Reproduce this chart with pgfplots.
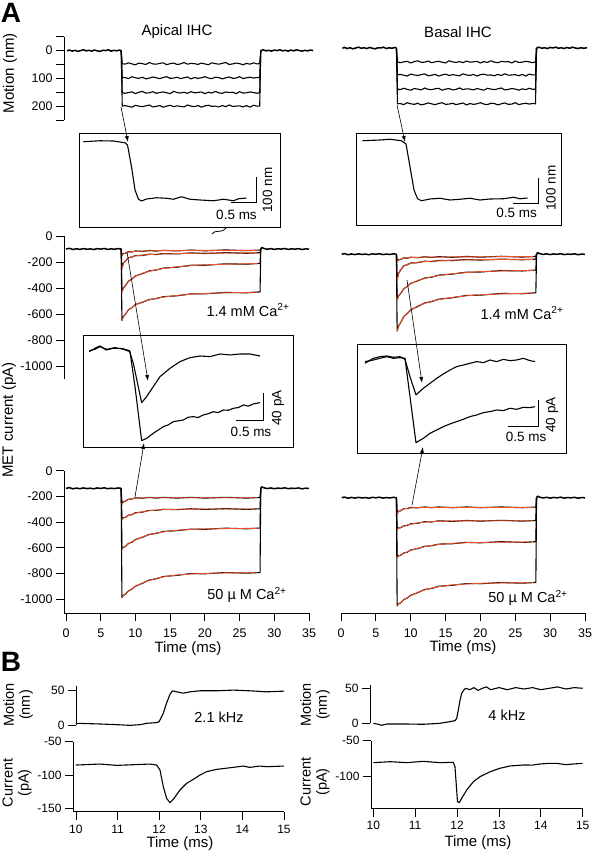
\documentclass[border=0pt]{standalone}
\usepackage{fontspec}
\setmainfont{Liberation Sans}
\usepackage{pgfplots}
\pgfplotsset{compat=1.18}
\usetikzlibrary{arrows.meta}
\definecolor{fitred}{RGB}{240,80,40}
\pgfplotsset{
  base/.style={scale only axis, clip=false, anchor=north west,
    axis line style={line width=0.8pt},
    tick style={black, line width=0.8pt},
    major tick length=8pt, minor tick length=8pt,
    ticklabel style={font=\fontsize{12.5}{14}\selectfont},
    /pgf/number format/assume math mode=true,
    /pgf/number format/1000 sep={}},
  fin/.style={tick align=outside, axis line style={-},
    every outer x axis line/.append style={-},
    every outer y axis line/.append style={-},
    every inner x axis line/.append style={-},
    every inner y axis line/.append style={-}},
  inset/.style={base, xtick=\empty, ytick=\empty},
  dat/.style={black, line width=1.1pt, line join=round, mark=none},
  bas/.style={black, line width=1.5pt, line join=round, mark=none},
  fit/.style={fitred, line width=0.9pt, line join=round, mark=none},
}
\begin{document}
\begin{tikzpicture}
\useasboundingbox (0pt,0pt) rectangle (592pt,-853pt);
%================ A: motion left
\begin{axis}[base, at={(64pt,-36.7pt)}, width=245pt, height=83.3pt,
  xmin=-0.29, xmax=35, ymin=-50, ymax=250, y dir=reverse,
  axis x line=none, axis y line=left, fin,
  ytick={0,100,200}, minor ytick={-50,50,150,250}]
\addplot[bas] coordinates {(0.15,1)(0.5,-2)(0.9,2)(1.3,-1)(1.7,3)(2.1,0)(2.5,-3)(2.9,1)(3.3,-1)(3.7,2)(4.1,-2)(4.5,1)(4.9,3)(5.3,-1)(5.7,0)(6.1,-3)(6.5,2)(6.9,-1)(7.3,1)(7.7,-2)(7.95,0)};
\addplot[bas] coordinates {(28.05,0)(28.4,-3)(28.8,1)(29.2,-1)(29.6,2)(30,-2)(30.4,0)(30.8,-3)(31.2,1)(31.6,-1)(32,2)(32.4,-2)(32.8,1)(33.2,-3)(33.6,0)(34,2)(34.4,-1)(34.8,1)(35.2,-2)(35.6,0)};
\addplot[dat] coordinates {(7.95,0)(8.1,47)(8.5,49)(9,44)(9.5,48)(10,51)(10.5,45)(11,47)(11.5,50)(12,43)(12.5,48)(13,49)(13.5,46)(14,44)(14.5,51)(15,47)(15.5,45)(16,50)(16.5,48)(17,43)(17.5,49)(18,46)(18.5,47)(19,50)(19.5,45)(20,48)(20.5,51)(21,44)(21.5,47)(22,49)(22.5,46)(23,43)(23.5,50)(24,48)(24.5,45)(25,47)(25.5,51)(26,46)(26.5,49)(27,44)(27.5,48)(27.9,47)(28.05,0)};
\addplot[dat] coordinates {(7.95,0)(8.1,98)(8.5,97)(9,101)(9.5,94)(10,98)(10.5,100)(11,96)(11.5,102)(12,99)(12.5,95)(13,98)(13.5,101)(14,97)(14.5,94)(15,100)(15.5,99)(16,96)(16.5,101)(17,98)(17.5,95)(18,102)(18.5,97)(19,100)(19.5,98)(20,94)(20.5,99)(21,101)(21.5,96)(22,97)(22.5,102)(23,98)(23.5,95)(24,100)(24.5,99)(25,94)(25.5,101)(26,98)(26.5,96)(27,99)(27.5,97)(27.9,98)(28.05,0)};
\addplot[dat] coordinates {(7.95,0)(8.1,151)(8.5,154)(9,151)(9.5,149)(10,155)(10.5,150)(11,147)(11.5,153)(12,152)(12.5,148)(13,154)(13.5,151)(14,149)(14.5,152)(15,155)(15.5,147)(16,151)(16.5,153)(17,150)(17.5,154)(18,148)(18.5,152)(19,151)(19.5,149)(20,155)(20.5,150)(21,153)(21.5,147)(22,152)(22.5,154)(23,149)(23.5,151)(24,150)(24.5,155)(25,148)(25.5,153)(26,152)(26.5,149)(27,151)(27.5,154)(27.9,151)(28.05,0)};
\addplot[dat] coordinates {(7.95,0)(8.1,200)(8.5,198)(9,201)(9.5,204)(10,197)(10.5,200)(11,202)(11.5,199)(12,196)(12.5,203)(13,201)(13.5,198)(14,204)(14.5,200)(15,197)(15.5,202)(16,199)(16.5,201)(17,203)(17.5,196)(18,200)(18.5,202)(19,198)(19.5,204)(20,199)(20.5,197)(21,201)(21.5,200)(22,203)(22.5,198)(23,202)(23.5,196)(24,201)(24.5,200)(25,199)(25.5,203)(26,198)(26.5,204)(27,197)(27.5,200)(27.9,200)(28.05,0)};
\end{axis}
%================ A: motion right
\begin{axis}[base, at={(341pt,-36.7pt)}, width=244pt, height=83.3pt,
  xmin=0, xmax=35, ymin=-40.7, ymax=259.3, y dir=reverse, hide axis]
\addplot[bas] coordinates {(0.2,1)(0.5,-2)(0.9,2)(1.3,-1)(1.7,3)(2.1,0)(2.5,-3)(2.9,1)(3.3,-1)(3.7,2)(4.1,-2)(4.5,1)(4.9,3)(5.3,-1)(5.7,0)(6.1,-3)(6.5,2)(6.9,-1)(7.3,1)(7.7,-2)(7.95,0)};
\addplot[bas] coordinates {(28.05,0)(28.4,-3)(28.8,1)(29.2,-1)(29.6,2)(30,-2)(30.4,0)(30.8,-3)(31.2,1)(31.6,-1)(32,2)(32.4,-2)(32.8,1)(33.2,-3)(33.6,0)(34,2)(34.4,-1)(34.8,1)(35.3,-1)};
\addplot[dat] coordinates {(7.95,0)(8.1,50)(8.5,53)(9,50)(9.5,48)(10,54)(10.5,49)(11,46)(11.5,52)(12,51)(12.5,47)(13,53)(13.5,50)(14,48)(14.5,51)(15,54)(15.5,46)(16,50)(16.5,52)(17,49)(17.5,53)(18,47)(18.5,51)(19,50)(19.5,48)(20,54)(20.5,49)(21,52)(21.5,46)(22,51)(22.5,53)(23,48)(23.5,50)(24,49)(24.5,54)(25,47)(25.5,52)(26,51)(26.5,48)(27,50)(27.5,53)(27.9,50)(28.05,0)};
\addplot[dat] coordinates {(7.95,0)(8.1,97)(8.5,95)(9,98)(9.5,101)(10,94)(10.5,97)(11,99)(11.5,96)(12,93)(12.5,100)(13,98)(13.5,95)(14,101)(14.5,97)(15,94)(15.5,99)(16,96)(16.5,98)(17,100)(17.5,93)(18,97)(18.5,99)(19,95)(19.5,101)(20,96)(20.5,94)(21,98)(21.5,97)(22,100)(22.5,95)(23,99)(23.5,93)(24,98)(24.5,97)(25,96)(25.5,100)(26,95)(26.5,101)(27,94)(27.5,97)(27.9,97)(28.05,0)};
\addplot[dat] coordinates {(7.95,0)(8.1,148)(8.5,150)(9,145)(9.5,149)(10,152)(10.5,146)(11,148)(11.5,151)(12,144)(12.5,149)(13,150)(13.5,147)(14,145)(14.5,152)(15,148)(15.5,146)(16,151)(16.5,149)(17,144)(17.5,150)(18,147)(18.5,148)(19,151)(19.5,146)(20,149)(20.5,152)(21,145)(21.5,148)(22,150)(22.5,147)(23,144)(23.5,151)(24,149)(24.5,146)(25,148)(25.5,152)(26,147)(26.5,150)(27,145)(27.5,149)(27.9,148)(28.05,0)};
\addplot[dat] coordinates {(7.95,0)(8.1,201)(8.5,200)(9,204)(9.5,197)(10,201)(10.5,203)(11,199)(11.5,205)(12,202)(12.5,198)(13,201)(13.5,204)(14,200)(14.5,197)(15,203)(15.5,202)(16,199)(16.5,204)(17,201)(17.5,198)(18,205)(18.5,200)(19,203)(19.5,201)(20,197)(20.5,202)(21,204)(21.5,199)(22,200)(22.5,205)(23,201)(23.5,198)(24,203)(24.5,202)(25,197)(25.5,204)(26,201)(26.5,199)(27,202)(27.5,200)(27.9,201)(28.05,0)};
\end{axis}
%================ motion insets
\begin{axis}[inset, at={(79pt,-133pt)}, width=201pt, height=94pt,
  xmin=0, xmax=4.02, ymin=-36, ymax=340, y dir=reverse]
\addplot[dat] coordinates {(0.087,-1)(0.42,-5)(0.69,-4)(0.92,3)(0.97,12)(1.05,99)(1.12,192)(1.19,229)(1.25,236)(1.35,228)(1.55,223)(1.75,225)(1.89,229)(2.05,219)(2.22,229)(2.42,232)(2.69,235)(2.89,229)(3.09,235)(3.19,227)(3.35,224)};
\end{axis}
\begin{axis}[inset, at={(356pt,-133pt)}, width=205pt, height=92pt,
  xmin=0, xmax=4.1, ymin=-32, ymax=336, y dir=reverse]
\addplot[dat] coordinates {(0.13,-1)(0.48,-4)(0.68,-7)(0.91,-1)(1.0,12)(1.08,103)(1.16,196)(1.23,231)(1.31,239)(1.48,232)(1.68,229)(1.88,236)(2.08,233)(2.28,229)(2.48,236)(2.68,232)(2.95,231)(3.15,225)(3.28,231)(3.43,228)};
\end{axis}
%================ A: current 1.4 mM left
\begin{axis}[base, at={(64pt,-236pt)}, width=245pt, height=143pt,
  xmin=-0.29, xmax=35, ymin=-1100, ymax=0,
  axis x line=none, axis y line=left, fin,
  ytick={-1000,-800,-600,-400,-200,0}]
\addplot[bas] coordinates {(0,-100)(0.5,-95)(1,-104)(1.5,-98)(2,-103)(2.5,-97)(3,-102)(3.5,-99)(4,-104)(4.5,-97)(5,-101)(5.5,-96)(6,-103)(6.5,-99)(7,-102)(7.5,-97)(7.95,-100)};
\addplot[bas] coordinates {(28.05,-100)(28.2,-88)(28.5,-96)(29,-102)(29.5,-97)(30,-103)(30.5,-98)(31,-101)(31.5,-96)(32,-103)(32.5,-99)(33,-101)(33.5,-97)(34,-104)(34.5,-99)(35,-101)};
\addplot[dat] coordinates {(7.95,-100)(8.05,-150)(8.25,-134)(8.5,-134)(9,-120)(9.5,-123)(10,-115)(11,-119)(12,-111)(13,-116)(14,-110)(16,-115)(18,-108)(20,-114)(23,-107)(26,-113)(27.95,-108)(28.05,-100)};
\addplot[dat] coordinates {(7.95,-100)(8.05,-250)(8.25,-211)(8.5,-196)(9,-166)(9.5,-162)(10,-150)(11,-150)(12,-140)(13,-143)(14,-135)(16,-138)(18,-130)(20,-135)(23,-128)(26,-133)(27.95,-128)(28.05,-100)};
\addplot[dat] coordinates {(7.95,-100)(8.05,-430)(8.25,-400)(8.5,-386)(9,-347)(9.5,-331)(10,-307)(11,-290)(12,-268)(13,-262)(14,-247)(16,-240)(18,-225)(20,-225)(23,-214)(26,-217)(27.95,-210)(28.05,-100)};
\addplot[dat] coordinates {(7.95,-100)(8.05,-650)(8.25,-620)(8.5,-606)(9,-567)(9.5,-551)(10,-527)(11,-510)(12,-488)(13,-482)(14,-467)(16,-460)(18,-445)(20,-445)(23,-434)(26,-437)(27.95,-430)(28.05,-100)};
\addplot[fit] coordinates {(8.05,-150)(8.25,-138)(8.5,-131)(9,-123)(9.5,-120)(10,-118)(11,-116)(12,-114)(13,-113)(14,-113)(16,-112)(18,-111)(20,-111)(23,-110)(26,-110)(27.6,-110)};
\addplot[fit] coordinates {(8.05,-250)(8.25,-215)(8.5,-193)(9,-169)(9.5,-159)(10,-153)(11,-147)(12,-143)(13,-140)(14,-138)(16,-135)(18,-133)(20,-132)(23,-131)(26,-130)(27.6,-130)};
\addplot[fit] coordinates {(8.05,-430)(8.25,-404)(8.5,-383)(9,-350)(9.5,-328)(10,-310)(11,-287)(12,-271)(13,-259)(14,-250)(16,-237)(18,-228)(20,-222)(23,-217)(26,-214)(27.6,-212)};
\addplot[fit] coordinates {(8.05,-650)(8.25,-624)(8.5,-603)(9,-570)(9.5,-548)(10,-530)(11,-507)(12,-491)(13,-479)(14,-470)(16,-457)(18,-448)(20,-442)(23,-437)(26,-434)(27.6,-432)};
\end{axis}
%================ A: current 1.4 mM right
\begin{axis}[base, at={(341pt,-236pt)}, width=244pt, height=143pt,
  xmin=0, xmax=35, ymin=-1100, ymax=0, hide axis]
\addplot[bas] coordinates {(0.1,-140)(0.5,-135)(1,-144)(1.5,-138)(2,-143)(2.5,-137)(3,-142)(3.5,-139)(4,-144)(4.5,-137)(5,-141)(5.5,-136)(6,-143)(6.5,-139)(7,-142)(7.5,-137)(7.95,-140)};
\addplot[bas] coordinates {(28.05,-140)(28.2,-128)(28.5,-136)(29,-142)(29.5,-137)(30,-143)(30.5,-138)(31,-141)(31.5,-136)(32,-143)(32.5,-139)(33,-141)(33.5,-137)(34,-144)(34.5,-139)(35,-141)};
\addplot[dat] coordinates {(7.95,-140)(8.05,-197)(8.25,-182)(8.5,-182)(9,-168)(9.5,-171)(10,-163)(11,-167)(12,-160)(13,-165)(14,-159)(16,-164)(18,-157)(20,-163)(23,-156)(26,-162)(27.95,-157)(28.05,-140)};
\addplot[dat] coordinates {(7.95,-140)(8.05,-338)(8.25,-288)(8.5,-265)(9,-229)(9.5,-221)(10,-208)(11,-205)(12,-194)(13,-197)(14,-188)(16,-189)(18,-181)(20,-185)(23,-178)(26,-183)(27.95,-178)(28.05,-140)};
\addplot[dat] coordinates {(7.95,-140)(8.05,-492)(8.25,-461)(8.5,-446)(9,-406)(9.5,-388)(10,-364)(11,-345)(12,-323)(13,-317)(14,-301)(16,-293)(18,-278)(20,-277)(23,-266)(26,-269)(27.95,-262)(28.05,-140)};
\addplot[dat] coordinates {(7.95,-140)(8.05,-731)(8.25,-692)(8.5,-671)(9,-621)(9.5,-597)(10,-568)(11,-542)(12,-515)(13,-505)(14,-486)(16,-475)(18,-457)(20,-455)(23,-442)(26,-444)(27.95,-437)(28.05,-140)};
\addplot[fit] coordinates {(8.05,-197)(8.25,-186)(8.5,-179)(9,-171)(9.5,-168)(10,-166)(11,-164)(12,-163)(13,-162)(14,-162)(16,-161)(18,-160)(20,-160)(23,-159)(26,-159)(27.6,-159)};
\addplot[fit] coordinates {(8.05,-338)(8.25,-292)(8.5,-262)(9,-232)(9.5,-218)(10,-211)(11,-202)(12,-197)(13,-194)(14,-191)(16,-186)(18,-184)(20,-182)(23,-181)(26,-180)(27.6,-180)};
\addplot[fit] coordinates {(8.05,-492)(8.25,-465)(8.5,-443)(9,-409)(9.5,-385)(10,-367)(11,-342)(12,-326)(13,-314)(14,-304)(16,-290)(18,-281)(20,-274)(23,-269)(26,-266)(27.6,-264)};
\addplot[fit] coordinates {(8.05,-731)(8.25,-696)(8.5,-668)(9,-624)(9.5,-594)(10,-571)(11,-539)(12,-518)(13,-502)(14,-489)(16,-472)(18,-460)(20,-452)(23,-445)(26,-441)(27.6,-439)};
\end{axis}
%================ current insets
\begin{axis}[inset, at={(83pt,-335pt)}, width=210pt, height=112pt,
  xmin=0, xmax=3.889, ymin=-140, ymax=21.6]
\addplot[dat] coordinates {(0.117,-2.4)(0.253,3.8)(0.315,5.8)(0.426,0)(0.562,2.4)(0.716,2.4)(0.858,-1.0)(0.932,-19.2)(1.086,-76.0)(1.179,-67.3)(1.302,-52.9)(1.426,-38.5)(1.611,-26.5)(1.796,-16.8)(1.981,-11.1)(2.167,-8.7)(2.352,-9.6)(2.537,-5.8)(2.722,-7.2)(2.907,-5.8)(3.093,-5.8)(3.278,-8.7)};
\addplot[dat] coordinates {(0.117,-1.0)(0.222,1.0)(0.315,4.8)(0.438,1.0)(0.593,3.4)(0.747,1.0)(0.870,-2.4)(0.963,-52.9)(1.086,-130.8)(1.179,-127.5)(1.302,-120.2)(1.488,-110.6)(1.58,-108)(1.673,-103.4)(1.858,-101.0)(1.95,-97)(2.043,-96.2)(2.13,-97.5)(2.228,-93.8)(2.32,-92)(2.414,-89.0)(2.5,-90.5)(2.599,-86.6)(2.69,-87)(2.784,-84.2)(2.88,-83)(2.969,-79.4)(3.06,-81)(3.154,-77.9)(3.278,-76.0)};
\end{axis}
\begin{axis}[inset, at={(357pt,-344pt)}, width=209pt, height=109pt,
  xmin=0, xmax=3.483, ymin=-146.2, ymax=21.5]
\addplot[dat] coordinates {(0.133,-8.2)(0.272,-0.5)(0.383,2.0)(0.494,3.1)(0.606,1.0)(0.717,2.0)(0.800,-2.1)(0.883,-28.7)(0.983,-56.9)(1.106,-46.6)(1.217,-39.0)(1.328,-31.3)(1.439,-24.6)(1.550,-18.5)(1.661,-13.3)(1.772,-10.8)(1.883,-8.2)(1.994,-5.6)(2.106,-7.2)(2.217,-3.1)(2.328,-5.6)(2.439,-2.1)(2.550,-4.1)(2.661,-3.1)(2.772,-0.5)(2.883,-4.1)(2.967,-5.6)};
\addplot[dat] coordinates {(0.133,-5.6)(0.272,-3.1)(0.383,-0.5)(0.494,2.0)(0.606,-0.5)(0.717,0.5)(0.800,-0.5)(0.883,-59.5)(0.983,-130.2)(1.106,-123.6)(1.217,-115.9)(1.328,-110.7)(1.439,-105.6)(1.550,-101.5)(1.661,-97.9)(1.772,-94.3)(1.883,-90.2)(1.994,-87.7)(2.106,-84.1)(2.217,-82.5)(2.328,-80.0)(2.439,-81.0)(2.550,-77.4)(2.661,-79.0)(2.772,-75.9)(2.883,-76.4)(2.967,-74.9)};
\end{axis}
%================ A: current 50 uM left
\begin{axis}[base, at={(64pt,-470.7pt)}, width=245pt, height=142.7pt,
  xmin=-0.29, xmax=35, ymin=-1110, ymax=0,
  axis lines=left, fin,
  xtick={0,5,...,35}, ytick={-1000,-800,-600,-400,-200,0},
  xticklabel style={yshift=-4pt}]
\addplot[bas] coordinates {(0,-137)(0.5,-132)(1,-141)(1.5,-135)(2,-140)(2.5,-134)(3,-139)(3.5,-136)(4,-141)(4.5,-134)(5,-138)(5.5,-133)(6,-140)(6.5,-136)(7,-139)(7.5,-134)(7.95,-137)};
\addplot[bas] coordinates {(28.05,-137)(28.2,-125)(28.5,-133)(29,-139)(29.5,-134)(30,-140)(30.5,-135)(31,-138)(31.5,-133)(32,-140)(32.5,-136)(33,-138)(33.5,-134)(34,-141)(34.5,-136)(35,-138)};
\addplot[dat] coordinates {(7.95,-137)(8.05,-259)(8.25,-242)(8.5,-239)(9,-221)(9.5,-220)(10,-211)(11,-214)(12,-207)(13,-213)(14,-207)(16,-213)(18,-207)(20,-213)(23,-207)(26,-213)(27.95,-208)(28.05,-137)};
\addplot[dat] coordinates {(7.95,-137)(8.05,-378)(8.25,-365)(8.5,-365)(9,-346)(9.5,-342)(10,-327)(11,-322)(12,-308)(13,-309)(14,-300)(16,-303)(18,-296)(20,-301)(23,-295)(26,-301)(27.95,-296)(28.05,-137)};
\addplot[dat] coordinates {(7.95,-137)(8.05,-611)(8.25,-595)(8.5,-592)(9,-566)(9.5,-556)(10,-535)(11,-518)(12,-495)(13,-488)(14,-473)(16,-466)(18,-454)(20,-456)(23,-447)(26,-452)(27.95,-446)(28.05,-137)};
\addplot[dat] coordinates {(7.95,-137)(8.05,-987)(8.25,-969)(8.5,-963)(9,-935)(9.5,-921)(10,-898)(11,-876)(12,-850)(13,-841)(14,-823)(16,-814)(18,-800)(20,-802)(23,-792)(26,-797)(27.95,-792)(28.05,-137)};
\addplot[fit] coordinates {(8.05,-259)(8.25,-246)(8.5,-236)(9,-224)(9.5,-217)(10,-214)(11,-211)(12,-210)(13,-210)(14,-210)(16,-210)(18,-210)(20,-210)(23,-210)(26,-210)(27.6,-210)};
\addplot[fit] coordinates {(8.05,-378)(8.25,-369)(8.5,-362)(9,-349)(9.5,-339)(10,-330)(11,-319)(12,-311)(13,-306)(14,-303)(16,-300)(18,-299)(20,-298)(23,-298)(26,-298)(27.6,-298)};
\addplot[fit] coordinates {(8.05,-611)(8.25,-599)(8.5,-589)(9,-569)(9.5,-553)(10,-538)(11,-515)(12,-498)(13,-485)(14,-476)(16,-463)(18,-457)(20,-453)(23,-450)(26,-449)(27.6,-448)};
\addplot[fit] coordinates {(8.05,-987)(8.25,-973)(8.5,-960)(9,-938)(9.5,-918)(10,-901)(11,-873)(12,-853)(13,-838)(14,-826)(16,-811)(18,-803)(20,-799)(23,-795)(26,-794)(27.6,-794)};
\end{axis}
%================ A: current 50 uM right
\begin{axis}[base, at={(341pt,-470.7pt)}, width=244pt, height=142.7pt,
  xmin=0, xmax=35, ymin=-1110, ymax=0,
  axis x line=bottom, axis y line=none, fin,
  xtick={0,5,...,35}, xticklabel style={yshift=-4pt}]
\addplot[bas] coordinates {(0.1,-210)(0.5,-205)(1,-214)(1.5,-208)(2,-213)(2.5,-207)(3,-212)(3.5,-209)(4,-214)(4.5,-207)(5,-211)(5.5,-206)(6,-213)(6.5,-209)(7,-212)(7.5,-207)(7.95,-210)};
\addplot[bas] coordinates {(28.05,-210)(28.2,-198)(28.5,-206)(29,-212)(29.5,-207)(30,-213)(30.5,-208)(31,-211)(31.5,-206)(32,-213)(32.5,-209)(33,-211)(33.5,-207)(34,-214)(34.5,-209)(35,-211)};
\addplot[dat] coordinates {(7.95,-210)(8.05,-331)(8.25,-315)(8.5,-313)(9,-295)(9.5,-295)(10,-286)(11,-289)(12,-282)(13,-288)(14,-282)(16,-288)(18,-282)(20,-288)(23,-282)(26,-288)(27.95,-283)(28.05,-210)};
\addplot[dat] coordinates {(7.95,-210)(8.05,-456)(8.25,-445)(8.5,-445)(9,-429)(9.5,-426)(10,-413)(11,-409)(12,-397)(13,-399)(14,-390)(16,-394)(18,-387)(20,-392)(23,-386)(26,-392)(27.95,-387)(28.05,-210)};
\addplot[dat] coordinates {(7.95,-210)(8.05,-673)(8.25,-661)(8.5,-660)(9,-640)(9.5,-634)(10,-617)(11,-606)(12,-588)(13,-584)(14,-571)(16,-568)(18,-557)(20,-561)(23,-552)(26,-558)(27.95,-552)(28.05,-210)};
\addplot[dat] coordinates {(7.95,-210)(8.05,-1052)(8.25,-1035)(8.5,-1030)(9,-1003)(9.5,-990)(10,-969)(11,-949)(12,-924)(13,-916)(14,-899)(16,-891)(18,-878)(20,-879)(23,-870)(26,-875)(27.95,-869)(28.05,-210)};
\addplot[fit] coordinates {(8.05,-331)(8.25,-319)(8.5,-310)(9,-298)(9.5,-292)(10,-289)(11,-286)(12,-285)(13,-285)(14,-285)(16,-285)(18,-285)(20,-285)(23,-285)(26,-285)(27.6,-285)};
\addplot[fit] coordinates {(8.05,-456)(8.25,-449)(8.5,-442)(9,-432)(9.5,-423)(10,-416)(11,-406)(12,-400)(13,-396)(14,-393)(16,-391)(18,-390)(20,-389)(23,-389)(26,-389)(27.6,-389)};
\addplot[fit] coordinates {(8.05,-673)(8.25,-665)(8.5,-657)(9,-643)(9.5,-631)(10,-620)(11,-603)(12,-591)(13,-581)(14,-574)(16,-565)(18,-560)(20,-558)(23,-555)(26,-555)(27.6,-554)};
\addplot[fit] coordinates {(8.05,-1052)(8.25,-1039)(8.5,-1027)(9,-1006)(9.5,-987)(10,-972)(11,-946)(12,-927)(13,-913)(14,-902)(16,-888)(18,-881)(20,-876)(23,-873)(26,-872)(27.6,-871)};
\end{axis}
%================ B: left
\begin{axis}[base, at={(76pt,-686pt)}, width=208pt, height=39pt,
  xmin=10, xmax=15, ymin=0, ymax=57,
  axis x line=none, axis y line=left, fin, ytick={0,50},
  ticklabel style={font=\fontsize{12}{13}\selectfont}]
\addplot[dat] coordinates {(10.0,2.5)(10.58,1.5)(10.98,0.5)(11.30,-0.5)(11.54,0.5)(11.70,2.5)(11.94,3.5)(12.00,5)(12.10,17.5)(12.18,32.5)(12.26,45)(12.32,50)(12.42,48.5)(12.58,46.5)(12.74,48.5)(12.98,50)(13.38,50)(13.78,51)(14.18,50)(14.58,48.5)(15.0,49.5)};
\end{axis}
\begin{axis}[base, at={(73pt,-741.7pt)}, width=211pt, height=70pt,
  xmin=9.93, xmax=15, ymin=-155, ymax=-50,
  axis lines=left, fin, ytick={-150,-100,-50}, xtick={10,11,...,15},
  ticklabel style={font=\fontsize{12}{13}\selectfont},
  xticklabel style={yshift=-1.5pt}]
\addplot[dat] coordinates {(10.0,-85)(10.58,-83.5)(10.98,-85.5)(11.38,-84.5)(11.78,-83.5)(11.94,-85)(12.02,-92.5)(12.10,-117.5)(12.18,-135)(12.26,-141.5)(12.34,-136.5)(12.50,-122.5)(12.66,-112.5)(12.82,-106.5)(12.98,-100)(13.14,-95)(13.38,-91.5)(13.78,-88.5)(14.02,-86.5)(14.18,-88.5)(14.42,-86.5)(14.58,-87.5)(15.0,-86.5)};
\end{axis}
%================ B: right
\begin{axis}[base, at={(370pt,-684.8pt)}, width=212.7pt, height=38.5pt,
  xmin=9.92, xmax=15, ymin=0, ymax=55,
  axis x line=none, axis y line=left, fin, ytick={0,50},
  ticklabel style={font=\fontsize{12}{13}\selectfont}]
\addplot[dat] coordinates {(10.0,0)(10.12,-1.4)(10.2,-2.9)(10.32,-1)(10.8,-1)(11.19,-1.4)(11.59,0)(11.83,2.4)(11.95,3.8)(11.99,7.1)(12.03,19)(12.07,33)(12.11,43)(12.15,46.6)(12.2,50)(12.3,48)(12.4,51)(12.5,47)(12.6,50)(12.7,52)(12.8,48)(13.0,51)(13.2,48)(13.4,51)(13.6,49)(13.8,51)(14.0,48)(14.2,50)(14.4,52)(14.6,49)(14.8,51)(15.0,50)};
\end{axis}
\begin{axis}[base, at={(371pt,-740.7pt)}, width=211.7pt, height=67.8pt,
  xmin=9.945, xmax=15, ymin=-146, ymax=-50,
  axis lines=left, fin, ytick={-100,-50}, xtick={10,11,...,15},
  ticklabel style={font=\fontsize{12}{13}\selectfont},
  xticklabel style={yshift=-1.5pt}]
\addplot[dat] coordinates {(10.0,-81.1)(10.40,-79.7)(10.80,-81.1)(11.19,-79.2)(11.59,-81.1)(11.91,-80.6)(11.95,-86.8)(11.99,-119.8)(12.01,-136.3)(12.05,-137.7)(12.11,-131.6)(12.23,-119.8)(12.39,-108.0)(12.55,-100.9)(12.79,-93.9)(13.02,-89.1)(13.26,-85.8)(13.58,-84.4)(13.8,-84.5)(13.98,-83)(14.2,-82)(14.38,-82)(14.6,-84)(14.77,-83)(15.0,-82)};
\end{axis}
%================ annotations
\begin{scope}[x=1pt,y=-1pt]
\tikzset{lab/.style={font=\fontsize{15}{17}\selectfont},
         txt/.style={font=\fontsize{14.5}{16}\selectfont},
         sb/.style={font=\fontsize{13.5}{15}\selectfont},
         arr/.style={line width=0.6pt,-{Latex[length=6pt,width=4pt]}}}
\node[font=\fontsize{28}{30}\selectfont\bfseries] at (11,13) {A};
\node[font=\fontsize{28}{30}\selectfont\bfseries] at (11,662) {B};
\node[lab] at (177,32) {Apical IHC};
\node[lab] at (458,32) {Basal IHC};
\node[lab, rotate=90] at (10,73) {Motion (nm)};
\node[lab, rotate=90] at (9,420) {MET current (pA)};
\node[txt] at (248,310) {1.4 mM Ca\textsuperscript{2+}};
\node[txt] at (522,313) {1.4 mM Ca\textsuperscript{2+}};
\node[txt] at (247,595) {50 µ M Ca\textsuperscript{2+}};
\node[txt] at (528,598) {50 µ M Ca\textsuperscript{2+}};
\node[lab] at (188,649) {Time (ms)};
\node[lab] at (463,648) {Time (ms)};
\node[txt] at (219,717) {2.1 kHz};
\node[txt] at (507,715) {4 kHz};
\node[txt, rotate=90, align=center] at (18,705) {Motion\\(nm)};
\node[txt, rotate=90, align=center] at (17,783) {Current\\(pA)};
\node[txt, rotate=90, align=center] at (315,705) {Motion\\(nm)};
\node[txt, rotate=90, align=center] at (315,782) {Current\\(pA)};
\node[lab] at (180,844) {Time (ms)};
\node[lab] at (478,843) {Time (ms)};
% scale bars
\draw[line width=0.8pt] (231,202) -- (256,202) -- (256,177);
\draw[line width=0.8pt] (513,203) -- (538,203) -- (538,178);
\draw[line width=0.8pt] (236,420.7) -- (263,420.7) -- (263,393);
\draw[line width=0.8pt] (508,426) -- (538,426) -- (538,400);
\node[sb] at (236.5,214.5) {0.5 ms};
\node[sb, rotate=90] at (267.5,190) {100 nm};
\node[sb] at (516.5,212.5) {0.5 ms};
\node[sb, rotate=90] at (551,188) {100 nm};
\node[sb] at (251,432) {0.5 ms};
\node[sb, rotate=90] at (278,408) {40 pA};
\node[sb] at (526,436.5) {0.5 ms};
\node[sb, rotate=90] at (552,415) {40 pA};
% arrows
\draw[arr] (121,107) -- (128,142);
\draw[arr] (397,105) -- (405,142);
\draw[arr] (127,252) -- (148,381);
\draw[arr] (135,497) -- (144,443);
\draw[arr] (407,280) -- (422,383);
\draw[arr] (412,505) -- (423,447);
% break mark
\draw[line width=0.8pt] (212,234) .. controls (215,229) and (221,234) .. (226,228);
\end{scope}
\end{tikzpicture}
\end{document}
